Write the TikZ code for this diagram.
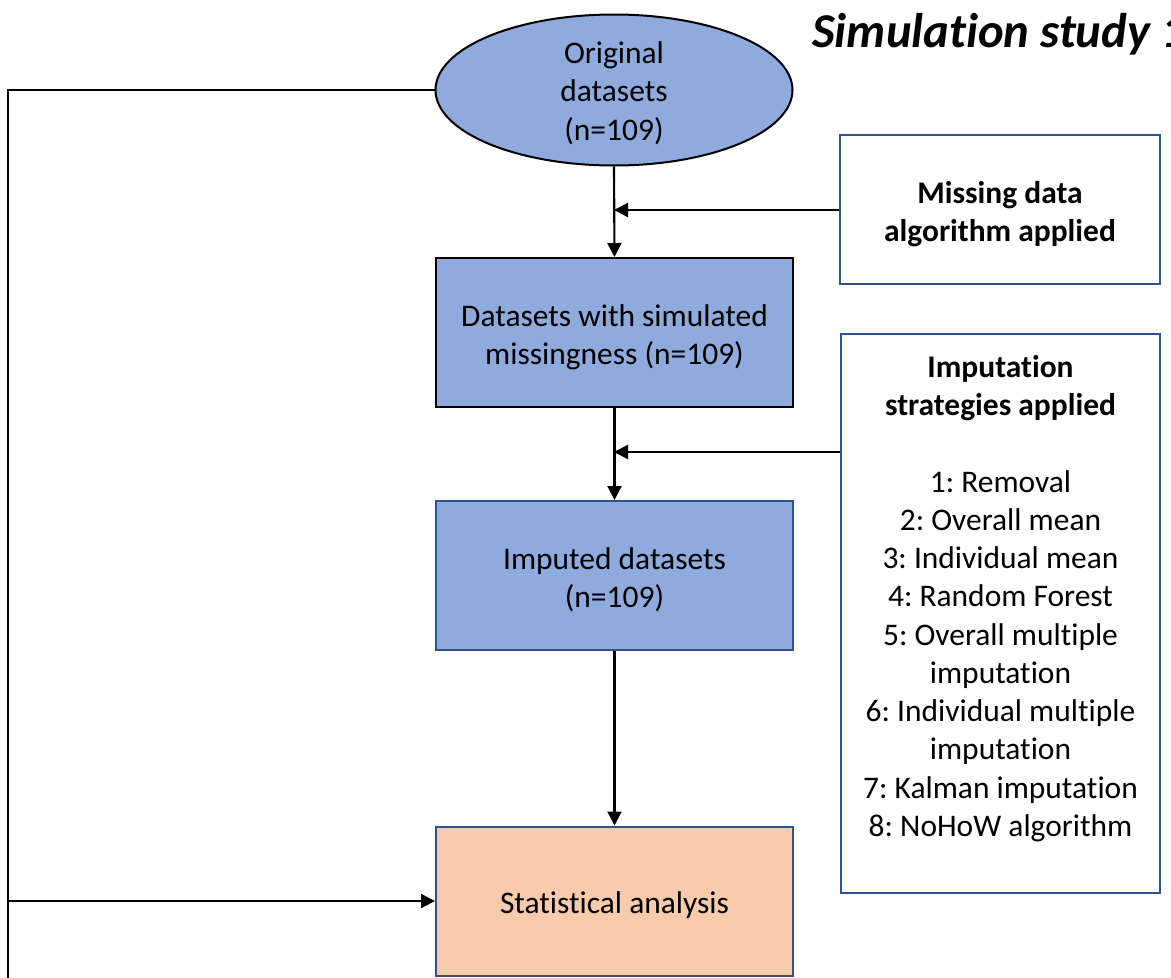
\documentclass[tikz,border=0pt]{standalone}
\usepackage{fontspec}
\setmainfont{Carlito}[Ligatures=NoCommon]
\usetikzlibrary{shapes.geometric,arrows.meta}
\definecolor{blueF}{HTML}{8FAADC}
\definecolor{peachF}{HTML}{F8CBAD}
\definecolor{navy}{HTML}{2F528F}
\frenchspacing
\newcommand{\lowstrut}{\rule{0pt}{23pt}}
\begin{document}
\begin{tikzpicture}[x=0.75pt,y=-0.75pt,
  txt/.style={font=\fontsize{23.6}{28.7}\selectfont, align=center, inner sep=0pt},
  bluebox/.style={draw=black, fill=blueF, line width=1.5pt, minimum width=267.75pt, minimum height=111.75pt, inner sep=0pt, txt},
  sidebox/.style={draw=navy, fill=white, line width=1.5pt, inner sep=0pt, txt},
  arr/.style={line width=1.6pt, -{Triangle[length=10.5pt,width=10.5pt]}},
  thinline/.style={line width=0.9pt}]
\useasboundingbox (0,0) rectangle (1171,978);
\fill[white] (0,0) rectangle (1171,978);
% title
\begin{scope}
\clip (0,0) rectangle (1171,978);
\node[anchor=base west, inner sep=0pt, font=\fontsize{36.5}{44}\selectfont\bfseries\itshape] (title) at (812,47) {Simulation study 1};
\end{scope}
% main column
\node[ellipse, draw=black, fill=blueF, line width=1.5pt, minimum width=267.75pt, minimum height=113.25pt, inner sep=0pt] (orig) at (614,90) {};
\node[txt] (origtext) at (614,93) {Original\\datasets\\(n=109)};
\node[bluebox] (sim) at (614.5,332.5) {\lowstrut Datasets with simulated\\missingness (n=109)};
\node[bluebox, draw=navy] (imp) at (614.5,575.5) {\lowstrut Imputed datasets\\(n=109)};
\node[bluebox, draw=navy, fill=peachF] (stat) at (614.5,901) {\lowstrut Statistical analysis};
% side boxes
\node[sidebox, minimum width=240pt, minimum height=111.75pt] (mda) at (1000,209.5) {\lowstrut\bfseries Missing data\\\bfseries algorithm applied};
\node[sidebox, minimum width=239.25pt, minimum height=419.25pt] (strat) at (1000.5,613.5) {};
\node[txt] (strattext) at (1000.5,598.5) {\bfseries Imputation\\\bfseries strategies applied\\[28.7pt]1: Removal\\2: Overall mean\\3: Individual mean\\4: Random Forest\\5: Overall multiple\\imputation\\6: Individual multiple\\imputation\\7: Kalman imputation\\8: NoHoW algorithm};
% connectors
\coordinate (j1) at (614,210);
\coordinate (j2) at (614,452);
\draw[arr] (orig.south) -- (sim.north);
\draw[arr] (mda.west |- j1) -- (j1);
\draw[arr] (sim.south) -- (imp.north);
\draw[arr] (strat.west |- j2) -- (j2);
\draw[arr] (imp.south) -- (stat.north);
% left loop
\coordinate (lc) at (8,90);
\coordinate (lb) at (8,980);
\coordinate (la) at (8,901);
\draw[thinline] (orig.west) -- (lc) -- (lb);
\draw[arr] (la) -- (stat.west);
\end{tikzpicture}
\end{document}
